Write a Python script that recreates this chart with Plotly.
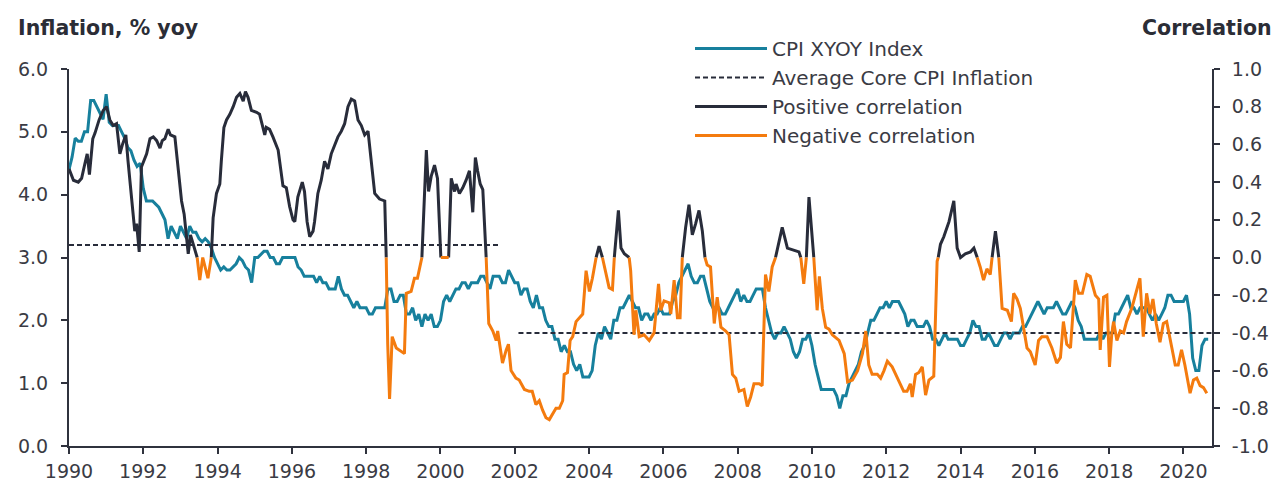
import plotly.graph_objects as go

# ---------------- data ----------------
cpi_start_year = 1990  # monthly values from Jan 1990
cpi_yoy = [
    4.4, 4.6, 4.9, 4.85, 4.85, 5.0, 5.0, 5.5, 5.5, 5.4, 5.3, 5.2,
    5.6, 5.15, 5.1, 5.1, 5.1, 5.0, 4.9, 4.75, 4.7, 4.55, 4.45, 4.5,
    4.1, 3.9, 3.9, 3.9, 3.85, 3.8, 3.7, 3.6, 3.3, 3.5, 3.4, 3.3,
    3.5, 3.4, 3.3, 3.5, 3.4, 3.4, 3.3, 3.25, 3.3, 3.25, 3.15, 3.0,
    2.9, 2.8, 2.85, 2.8, 2.8, 2.85, 2.9, 3.0, 2.95, 2.85, 2.8, 2.6,
    3.0, 3.0, 3.05, 3.1, 3.1, 3.0, 3.0, 2.9, 2.9, 3.0, 3.0, 3.0,
    3.0, 3.0, 2.85, 2.8, 2.7, 2.7, 2.7, 2.7, 2.6, 2.7, 2.6, 2.6,
    2.5, 2.5, 2.5, 2.7, 2.5, 2.4, 2.4, 2.3, 2.2, 2.3, 2.2, 2.2,
    2.2, 2.1, 2.1, 2.2, 2.2, 2.2, 2.2, 2.5, 2.5, 2.3, 2.3, 2.4,
    2.4, 2.1, 2.1, 2.2, 2.0, 2.1, 1.9, 2.1, 2.0, 2.1, 1.9, 1.9,
    2.0, 2.3, 2.4, 2.3, 2.4, 2.5, 2.5, 2.6, 2.6, 2.5, 2.6, 2.6,
    2.6, 2.7, 2.7, 2.6, 2.5, 2.7, 2.7, 2.7, 2.6, 2.6, 2.8, 2.7,
    2.6, 2.6, 2.4, 2.5, 2.5, 2.3, 2.2, 2.4, 2.2, 2.2, 2.0, 1.9,
    1.9, 1.7, 1.7, 1.5, 1.6, 1.5, 1.5, 1.3, 1.2, 1.3, 1.1, 1.1,
    1.1, 1.2, 1.6, 1.8, 1.7, 1.9, 1.8, 1.7, 2.0, 2.0, 2.2, 2.2,
    2.3, 2.4, 2.3, 2.2, 2.2, 2.0, 2.1, 2.1, 2.0, 2.1, 2.1, 2.2,
    2.1, 2.1, 2.1, 2.3, 2.4, 2.6, 2.7, 2.8, 2.9, 2.7, 2.6, 2.6,
    2.7, 2.7, 2.5, 2.3, 2.2, 2.2, 2.2, 2.1, 2.1, 2.2, 2.3, 2.4,
    2.5, 2.3, 2.4, 2.3, 2.3, 2.4, 2.5, 2.5, 2.5, 2.2, 2.0, 1.8,
    1.7, 1.8, 1.8, 1.9, 1.8, 1.7, 1.5, 1.4, 1.5, 1.7, 1.7, 1.8,
    1.6, 1.3, 1.1, 0.9, 0.9, 0.9, 0.9, 0.9, 0.8, 0.6, 0.8, 0.8,
    1.0, 1.1, 1.2, 1.3, 1.5, 1.6, 1.8, 2.0, 2.0, 2.1, 2.2, 2.2,
    2.3, 2.2, 2.3, 2.3, 2.3, 2.2, 2.1, 1.9, 2.0, 2.0, 1.9, 1.9,
    1.9, 2.0, 1.9, 1.7, 1.7, 1.6, 1.7, 1.8, 1.7, 1.7, 1.7, 1.7,
    1.6, 1.6, 1.7, 1.8, 2.0, 1.9, 1.9, 1.7, 1.7, 1.8, 1.7, 1.6,
    1.6, 1.7, 1.8, 1.8, 1.7, 1.8, 1.8, 1.8, 1.9, 1.9, 2.0, 2.1,
    2.2, 2.3, 2.2, 2.1, 2.2, 2.2, 2.2, 2.3, 2.2, 2.1, 2.1, 2.2,
    2.3, 2.2, 2.0, 1.9, 1.7, 1.7, 1.7, 1.7, 1.7, 1.8, 1.7, 1.8,
    1.8, 1.8, 2.1, 2.1, 2.2, 2.3, 2.4, 2.2, 2.2, 2.1, 2.2, 2.2,
    2.2, 2.1, 2.0, 2.1, 2.0, 2.1, 2.2, 2.4, 2.4, 2.3, 2.3, 2.3,
    2.3, 2.4, 2.1, 1.4, 1.2, 1.2, 1.6, 1.7, 1.7,
]

# Average core CPI inflation for the two regimes
avg_start = [1990.0, 2002.1]
avg_end = [2001.55, 2020.77]
avg_value = [3.2, 1.8]

# Correlation (date as decimal year, value)
corr_dates = [
    1990.00, 1990.12, 1990.25, 1990.34, 1990.43, 1990.49, 1990.55, 1990.64, 1990.70, 1990.81,
    1990.92, 1991.01, 1991.10, 1991.19, 1991.28, 1991.37, 1991.44, 1991.53, 1991.59, 1991.73,
    1991.77, 1991.82, 1991.89, 1991.95, 1992.09, 1992.18, 1992.27, 1992.36, 1992.45, 1992.51,
    1992.58, 1992.67, 1992.73, 1992.85, 1992.94, 1993.03, 1993.10, 1993.16, 1993.21, 1993.27,
    1993.32, 1993.45, 1993.52, 1993.60, 1993.74, 1993.83, 1993.88, 1993.97, 1994.06, 1994.10,
    1994.17, 1994.24, 1994.33, 1994.42, 1994.51, 1994.60, 1994.69, 1994.75, 1994.82, 1994.91,
    1995.05, 1995.13, 1995.27, 1995.31, 1995.40, 1995.49, 1995.58, 1995.63, 1995.76, 1995.85,
    1995.94, 1996.03, 1996.08, 1996.16, 1996.28, 1996.34, 1996.41, 1996.48, 1996.57, 1996.61,
    1996.70, 1996.79, 1996.88, 1996.97, 1997.06, 1997.15, 1997.24, 1997.33, 1997.42, 1997.51,
    1997.60, 1997.69, 1997.78, 1997.87, 1997.96, 1998.05, 1998.14, 1998.23, 1998.36, 1998.50,
    1998.54, 1998.58, 1998.63, 1998.70, 1998.81, 1998.94, 1999.03, 1999.08, 1999.21, 1999.30,
    1999.38, 1999.50, 1999.62, 1999.68, 1999.75, 1999.84, 1999.92, 2000.01, 2000.10, 2000.22,
    2000.29, 2000.38, 2000.42, 2000.51, 2000.60, 2000.69, 2000.78, 2000.87, 2000.94, 2001.00,
    2001.07, 2001.14, 2001.23, 2001.30, 2001.41, 2001.50, 2001.54, 2001.63, 2001.67, 2001.77,
    2001.83, 2001.90, 2002.03, 2002.12, 2002.26, 2002.39, 2002.47, 2002.57, 2002.66, 2002.75,
    2002.84, 2002.93, 2003.02, 2003.11, 2003.20, 2003.29, 2003.33, 2003.42, 2003.49, 2003.56,
    2003.65, 2003.74, 2003.83, 2003.92, 2004.01, 2004.09, 2004.19, 2004.27, 2004.36, 2004.45,
    2004.54, 2004.63, 2004.68, 2004.79, 2004.86, 2004.95, 2005.08, 2005.12, 2005.21, 2005.26,
    2005.35, 2005.48, 2005.62, 2005.75, 2005.87, 2005.93, 2006.02, 2006.16, 2006.20, 2006.29,
    2006.38, 2006.45, 2006.51, 2006.60, 2006.69, 2006.78, 2006.87, 2006.96, 2007.05, 2007.12,
    2007.18, 2007.27, 2007.37, 2007.45, 2007.55, 2007.68, 2007.77, 2007.86, 2007.95, 2008.04,
    2008.17, 2008.26, 2008.35, 2008.44, 2008.58, 2008.66, 2008.75, 2008.84, 2008.93, 2009.02,
    2009.20, 2009.34, 2009.47, 2009.65, 2009.70, 2009.78, 2009.85, 2009.92, 2010.05, 2010.14,
    2010.20, 2010.28, 2010.37, 2010.46, 2010.55, 2010.73, 2010.87, 2010.96, 2011.09, 2011.23,
    2011.36, 2011.45, 2011.53, 2011.62, 2011.76, 2011.85, 2011.94, 2012.03, 2012.16, 2012.21,
    2012.34, 2012.47, 2012.56, 2012.65, 2012.70, 2012.79, 2012.88, 2012.97, 2013.06, 2013.15,
    2013.28, 2013.37, 2013.40, 2013.46, 2013.55, 2013.69, 2013.82, 2013.91, 2014.00, 2014.13,
    2014.27, 2014.36, 2014.45, 2014.53, 2014.62, 2014.71, 2014.80, 2014.85, 2014.94, 2015.03,
    2015.12, 2015.26, 2015.37, 2015.43, 2015.52, 2015.61, 2015.70, 2015.79, 2015.88, 2016.01,
    2016.10, 2016.19, 2016.33, 2016.46, 2016.59, 2016.69, 2016.77, 2016.86, 2016.96, 2017.09,
    2017.18, 2017.28, 2017.40, 2017.49, 2017.63, 2017.72, 2017.76, 2017.85, 2017.94, 2018.01,
    2018.07, 2018.12, 2018.21, 2018.30, 2018.39, 2018.47, 2018.61, 2018.70, 2018.74, 2018.83,
    2018.92, 2019.01, 2019.10, 2019.18, 2019.27, 2019.37, 2019.46, 2019.55, 2019.69, 2019.78,
    2019.86, 2019.95, 2020.04, 2020.18, 2020.27, 2020.36, 2020.45, 2020.54, 2020.63,
]
corr_values = [
    0.47, 0.41, 0.40, 0.42, 0.50, 0.55, 0.44, 0.63, 0.66, 0.73,
    0.78, 0.80, 0.73, 0.70, 0.71, 0.55, 0.60, 0.65, 0.51, 0.19,
    0.14, 0.18, 0.03, 0.48, 0.55, 0.63, 0.64, 0.62, 0.58, 0.62,
    0.63, 0.68, 0.65, 0.64, 0.47, 0.30, 0.23, 0.12, 0.02, 0.12,
    0.09, 0.00, -0.12, 0.00, -0.11, 0.00, 0.21, 0.34, 0.39, 0.51,
    0.69, 0.73, 0.76, 0.80, 0.85, 0.87, 0.83, 0.88, 0.85, 0.78,
    0.77, 0.76, 0.65, 0.69, 0.68, 0.64, 0.60, 0.57, 0.38, 0.37,
    0.27, 0.20, 0.19, 0.32, 0.40, 0.35, 0.19, 0.11, 0.14, 0.19,
    0.34, 0.41, 0.51, 0.47, 0.55, 0.60, 0.64, 0.67, 0.71, 0.80,
    0.84, 0.83, 0.73, 0.70, 0.65, 0.67, 0.51, 0.34, 0.31, 0.30,
    0.00, -0.46, -0.75, -0.42, -0.48, -0.50, -0.51, -0.19, -0.18, -0.11,
    -0.11, 0.00, 0.57, 0.35, 0.43, 0.49, 0.42, 0.00, 0.00, 0.00,
    0.42, 0.35, 0.39, 0.34, 0.37, 0.41, 0.46, 0.24, 0.53, 0.46,
    0.39, 0.36, 0.00, -0.35, -0.39, -0.44, -0.39, -0.51, -0.56, -0.49,
    -0.46, -0.60, -0.64, -0.65, -0.70, -0.71, -0.71, -0.78, -0.76, -0.81,
    -0.85, -0.86, -0.83, -0.80, -0.80, -0.76, -0.62, -0.61, -0.44, -0.42,
    -0.34, -0.32, -0.30, -0.07, -0.18, -0.11, 0.00, 0.06, 0.00, -0.09,
    -0.16, -0.17, 0.00, 0.25, 0.05, 0.02, 0.00, -0.07, -0.41, -0.28,
    -0.42, -0.41, -0.44, -0.40, -0.14, -0.28, -0.23, -0.24, -0.30, -0.12,
    -0.32, -0.32, 0.00, 0.16, 0.28, 0.12, 0.18, 0.25, 0.14, 0.00,
    -0.04, -0.05, -0.35, -0.21, -0.37, -0.39, -0.41, -0.62, -0.64, -0.71,
    -0.70, -0.79, -0.74, -0.67, -0.67, -0.68, -0.09, -0.18, -0.05, 0.00,
    0.16, 0.05, 0.04, 0.03, 0.00, -0.14, 0.00, 0.32, 0.00, -0.28,
    -0.10, -0.27, -0.37, -0.38, -0.41, -0.44, -0.51, -0.66, -0.65, -0.60,
    -0.51, -0.39, -0.57, -0.62, -0.62, -0.64, -0.60, -0.55, -0.58, -0.60,
    -0.65, -0.71, -0.71, -0.67, -0.74, -0.62, -0.61, -0.58, -0.73, -0.65,
    -0.63, -0.02, 0.00, 0.07, 0.11, 0.19, 0.30, 0.05, 0.00, 0.02,
    0.03, 0.05, 0.00, -0.05, -0.12, -0.06, -0.09, 0.00, 0.14, 0.00,
    -0.27, -0.28, -0.34, -0.19, -0.22, -0.27, -0.37, -0.48, -0.50, -0.57,
    -0.44, -0.42, -0.42, -0.48, -0.56, -0.53, -0.34, -0.46, -0.48, -0.12,
    -0.19, -0.19, -0.09, -0.10, -0.20, -0.22, -0.49, -0.21, -0.20, -0.58,
    -0.41, -0.34, -0.44, -0.39, -0.40, -0.34, -0.27, -0.20, -0.18, -0.11,
    -0.42, -0.19, -0.30, -0.22, -0.35, -0.45, -0.35, -0.34, -0.48, -0.57,
    -0.57, -0.49, -0.57, -0.72, -0.65, -0.64, -0.68, -0.69, -0.72,
]

x_ticks = list(range(1990, 2021, 2))
cpi_ticks = [0, 1, 2, 3, 4, 5, 6]
corr_ticks = [-1.0, -0.8, -0.6, -0.4, -0.2, 0.0, 0.2, 0.4, 0.6, 0.8, 1.0]

# ---------------- styles ----------------
TEAL = "#17809d"
NAVY = "#282c3a"
ORANGE = "#f47b0e"
AXIS = "#2f323d"
TXT = "#3a3b44"
FONT = "DejaVu Sans, Arial, sans-serif"

cpi_x = [cpi_start_year + i / 12 for i in range(len(cpi_yoy))]

avg_x, avg_y = [], []
for s, e, v in zip(avg_start, avg_end, avg_value):
    avg_x += [s, e, None]
    avg_y += [v, v, None]


def split_by_sign(xs, ys):
    """Split one correlation line into positive / negative pieces, cutting at zero."""
    out = {"pos": ([], []), "neg": ([], [])}

    def add(key, p0, p1):
        lx, ly = out[key]
        if lx and lx[-1] is not None and (lx[-1], ly[-1]) == p0:
            lx.append(p1[0]); ly.append(p1[1])
        else:
            if lx:
                lx.append(None); ly.append(None)
            lx += [p0[0], p1[0]]; ly += [p0[1], p1[1]]

    for i in range(len(xs) - 1):
        x0, y0, x1, y1 = xs[i], ys[i], xs[i + 1], ys[i + 1]
        if y0 >= 0 and y1 >= 0 and not (y0 == 0 and y1 == 0):
            add("pos", (x0, y0), (x1, y1))
        elif y0 <= 0 and y1 <= 0:
            add("neg", (x0, y0), (x1, y1))
        else:
            xc = x0 + (x1 - x0) * (0 - y0) / (y1 - y0)
            k0 = "pos" if y0 > 0 else "neg"
            k1 = "neg" if k0 == "pos" else "pos"
            add(k0, (x0, y0), (xc, 0.0))
            add(k1, (xc, 0.0), (x1, y1))
    return out


parts = split_by_sign(corr_dates, corr_values)

LW = 3
fig = go.Figure()
fig.add_trace(go.Scatter(x=cpi_x, y=cpi_yoy, mode="lines", name="CPI XYOY Index",
                         line=dict(color=TEAL, width=LW), yaxis="y"))
fig.add_trace(go.Scatter(x=avg_x, y=avg_y, mode="lines", name="Average Core CPI Inflation",
                         line=dict(color=NAVY, width=2, dash="5px,3px"), yaxis="y"))
fig.add_trace(go.Scatter(x=parts["pos"][0], y=parts["pos"][1], mode="lines",
                         name="Positive correlation",
                         line=dict(color=NAVY, width=LW), yaxis="y2"))
fig.add_trace(go.Scatter(x=parts["neg"][0], y=parts["neg"][1], mode="lines",
                         name="Negative correlation",
                         line=dict(color=ORANGE, width=LW), yaxis="y2"))

PLOT_L, PLOT_R, PLOT_T, PLOT_B = 69, 1212, 69, 446
W, H = 1278, 485
pw, ph = PLOT_R - PLOT_L, PLOT_B - PLOT_T


def px_x(p):
    return (p - PLOT_L) / pw


def px_y(p):
    return (PLOT_B - p) / ph


tickfont = dict(family=FONT, size=19, color=TXT)
axis_common = dict(showgrid=False, zeroline=False, showline=True, linecolor=AXIS,
                   linewidth=2, ticks="outside", ticklen=6, tickwidth=2,
                   tickcolor=AXIS, tickfont=tickfont, automargin=False)

fig.update_layout(
    width=W, height=H, autosize=False,
    margin=dict(l=PLOT_L, r=W - PLOT_R, t=PLOT_T, b=H - PLOT_B, pad=0),
    plot_bgcolor="white", paper_bgcolor="white",
    font=dict(family=FONT, color=TXT),
    showlegend=True,
    hovermode=False,
    legend=dict(
        x=px_x(690), y=px_y(29), xanchor="left", yanchor="top",
        bgcolor="rgba(0,0,0,0)", font=dict(family=FONT, size=20, color=TXT),
        itemwidth=72, tracegroupgap=0,
    ),
    xaxis=dict(range=[1990, 2020.77], tickmode="array", tickvals=x_ticks,
               ticktext=[str(v) for v in x_ticks], ticklabelstandoff=1, **axis_common),
    yaxis=dict(range=[0, 6], tickmode="array", tickvals=cpi_ticks,
               ticktext=[f"{v:.1f}" for v in cpi_ticks], ticklabelstandoff=9,
               **axis_common),
    yaxis2=dict(range=[-1, 1], overlaying="y", side="right", tickmode="array",
                tickvals=corr_ticks, ticktext=[f"{v:.1f}" for v in corr_ticks],
                ticklabelstandoff=8, **axis_common),
    annotations=[
        dict(text="<b>Inflation, % yoy</b>", xref="paper", yref="paper",
             x=px_x(16), y=px_y(28), xanchor="left", yanchor="middle", showarrow=False,
             font=dict(family=FONT, size=20.5, color="#2b2d36")),
        dict(text="<b>Correlation</b>", xref="paper", yref="paper",
             x=px_x(1274), y=px_y(28), xanchor="right", yanchor="middle", showarrow=False,
             font=dict(family=FONT, size=20.5, color="#2b2d36")),
    ],
)

fig.write_html(
    "out.html",
    config={"responsive": False, "displayModeBar": False},
    post_script=("document.body.style.margin='0';"
                 "document.body.style.overflow='hidden';"
                 "document.documentElement.style.overflow='hidden';"),
)
